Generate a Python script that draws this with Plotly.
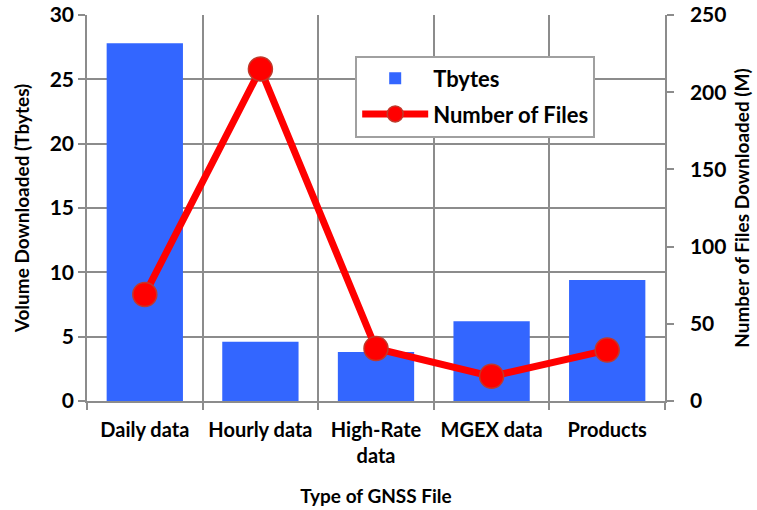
import plotly.graph_objects as go

# Data
categories = ["Daily data", "Hourly data", "High-Rate<br>data", "MGEX data", "Products"]
tbytes = [27.8, 4.6, 3.8, 6.2, 9.4]
num_files = [69, 215, 34, 16, 33]

FONT = "Lato, 'Open Sans', sans-serif"
GRID = "#8c8c8c"

fig = go.Figure()

fig.add_trace(go.Bar(
    x=categories,
    y=tbytes,
    name="Tbytes",
    legendgroup="a",
    marker=dict(color="#3366ff", line=dict(width=0)),
    yaxis="y",
))

fig.add_trace(go.Scatter(
    x=categories,
    y=num_files,
    name="Number of Files",
    legendgroup="b",
    mode="lines+markers",
    line=dict(color="#ff0000", width=7),
    marker=dict(color="#ff0000", size=24, line=dict(color="#c0392b", width=1.5)),
    yaxis="y2",
))

fig.update_layout(
    width=757,
    height=510,
    plot_bgcolor="white",
    paper_bgcolor="white",
    font=dict(family=FONT, color="black", size=18),
    margin=dict(l=87, r=92, t=15, b=109),
    bargap=0.34,
    showlegend=True,
    legend=dict(
        x=0.464, y=0.895, xanchor="left", yanchor="top",
        bgcolor="white", bordercolor="#a0a0a0", borderwidth=2,
        font=dict(size=22, family=FONT, color="black", weight="bold"),
        itemwidth=66,
        traceorder="grouped",
        tracegroupgap=4,
    ),
    xaxis=dict(
        type="category",
        tickson="boundaries",
        automargin=False,
        showgrid=True, gridcolor=GRID, gridwidth=1.5,
        showline=True, linecolor=GRID, linewidth=1.5,
        ticks="outside", ticklen=7, tickcolor=GRID, tickwidth=1.5,
        ticklabelstandoff=10,
        tickfont=dict(size=20, weight="bold"),
        title=dict(text="Type of GNSS File", font=dict(size=19, weight="bold"), standoff=24),
    ),
    yaxis=dict(
        range=[0, 30], dtick=5,
        automargin=False,
        ticklabeloverflow="allow",
        showgrid=True, gridcolor=GRID, gridwidth=1.5,
        showline=True, linecolor=GRID, linewidth=1.5,
        ticks="outside", ticklen=7, tickcolor=GRID, tickwidth=1.5,
        tickfont=dict(size=21, weight="bold"),
        zeroline=False,
        title=dict(text="Volume Downloaded (Tbytes)", font=dict(size=19, weight="bold"), standoff=15),
    ),
    yaxis2=dict(
        range=[0, 250], dtick=50,
        overlaying="y", side="right",
        automargin=False,
        ticklabeloverflow="allow",
        ticklabelstandoff=12,
        showgrid=False,
        showline=True, linecolor=GRID, linewidth=1.5,
        ticks="outside", ticklen=7, tickcolor=GRID, tickwidth=1.5,
        tickfont=dict(size=21, weight="bold"),
        zeroline=False,
        title=dict(text="Number of Files Downloaded (M)", font=dict(size=19, weight="bold"), standoff=10),
    ),
)

# drop the default page margin so the figure sits at the window's top-left corner
fig.write_html(
    "out.html",
    config={"displayModeBar": False},
    post_script="document.body.style.margin='0';",
)
